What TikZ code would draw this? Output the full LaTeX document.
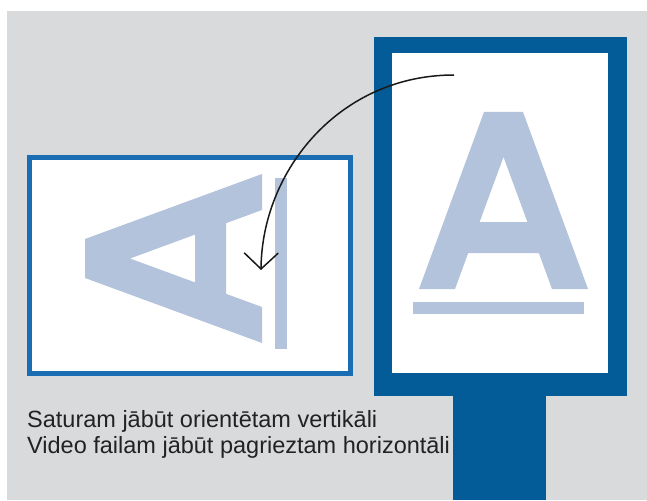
\documentclass[tikz,border=0pt]{standalone}
\usepackage{fontspec}
\setmainfont{Liberation Sans}
\usetikzlibrary{arrows.meta}
\definecolor{bggray}{HTML}{D9DADC}
\definecolor{framecol}{HTML}{1A6DB2}
\definecolor{signcol}{HTML}{035B97}
\definecolor{afill}{HTML}{B4C3DC}
\definecolor{txtcol}{HTML}{222222}
\tikzset{
  letterfill/.style={fill=afill, even odd rule},
  caption/.style={anchor=base west, inner sep=0pt, text=txtcol, font=\fontsize{23.5}{26}\selectfont},
  turnarrow/.style={draw=black!90, line width=1.5pt, -{Straight Barb[length=16pt,width=34pt,line width=1.5pt]}}
}
\begin{document}
\begin{tikzpicture}[x=1pt,y=-1pt]
\useasboundingbox (0,0) rectangle (647,500);
\fill[white] (0,0) rectangle (647,500);
\fill[bggray] (7,11) rectangle (647,500);
% left (horizontal) frame
\fill[framecol] (27,155) rectangle (353,376);
\fill[white] (32,160) rectangle (348,371);
% right sign
\fill[signcol] (374,37) rectangle (627,396);
\fill[signcol] (453,390) rectangle (546,500);
\fill[white] (392,53) rectangle (608,373);
% big upright A
\fill[letterfill] (419,289) -- (484,112) -- (523,112) -- (588,289) -- (552,289) -- (538.8,253) -- (468.2,253) -- (455,289) -- cycle
  (479.6,222) -- (503.5,157) -- (527.4,222) -- cycle;
\fill[afill] (413,302) rectangle (584,314);
% rotated A
\fill[letterfill] (262,343) -- (85,278) -- (85,239) -- (262,174) -- (262,210) -- (226,223.2) -- (226,293.8) -- (262,307) -- cycle
  (195,282.4) -- (130,258.5) -- (195,234.6) -- cycle;
\fill[afill] (275,178) rectangle (287,349);
% arrow
\coordinate (from) at (454,75);
\coordinate (to) at (261,270);
\draw[turnarrow] (from) .. controls (340,75) and (262,170) .. (to);
% captions
\node[caption] (cap1) at (27,427) {Saturam jābūt orientētam vertikāli};
\node[caption] (cap2) at (27,453) {Video failam jābūt pagrieztam horizontāli};
\end{tikzpicture}
\end{document}
